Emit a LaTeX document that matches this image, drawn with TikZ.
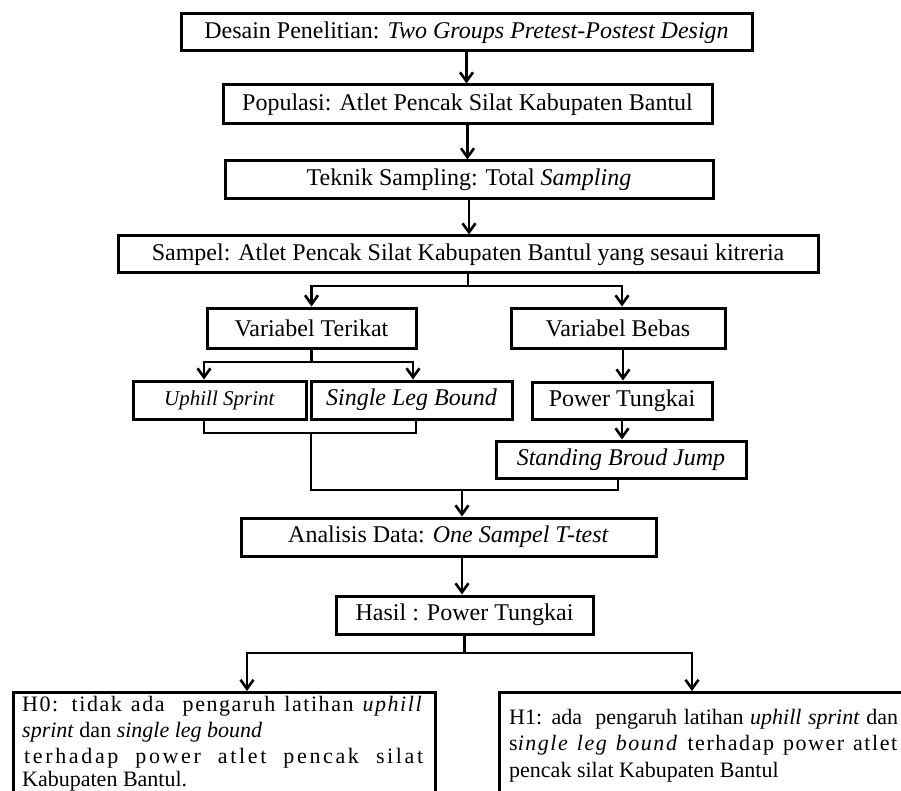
\documentclass[tikz,border=0pt]{standalone}
\usepackage{fontspec}
\setmainfont{Liberation Serif}
\usetikzlibrary{arrows.meta,calc}
\begin{document}
\begin{tikzpicture}[x=1pt,y=-1pt,
  box/.style={draw,line width=3pt,inner sep=0pt,font=\fontsize{24}{28}\selectfont},
  arr/.style={line width=2.6pt,-{Straight Barb[length=9pt,width=13pt]}},
  ln/.style={line width=2.6pt},
  txt/.style={anchor=base west,inner sep=0pt,font=\fontsize{22}{26}\selectfont}]
\useasboundingbox (0,0) rectangle (901,791);
\clip (0,0) rectangle (901,791);
% boxes
\node[box,minimum width=571pt,minimum height=37pt] (d1) at (466.5,32.5) {Desain Penelitian: \textit{Two Groups Pretest-Postest Design}};
\node[box,minimum width=489pt,minimum height=39pt] (pop) at (467.5,104.5) {Populasi: Atlet Pencak Silat Kabupaten Bantul};
\node[box,minimum width=488pt,minimum height=38pt] (tek) at (469,180) {Teknik Sampling: Total \textit{Sampling}};
\node[box,minimum width=700pt,minimum height=37pt] (sam) at (468,254.5) {Sampel: Atlet Pencak Silat Kabupaten Bantul yang sesaui kitreria};
\node[box,minimum width=209pt,minimum height=40pt] (vt) at (311.5,328) {Variabel Terikat};
\node[box,minimum width=214pt,minimum height=40pt] (vb) at (618,328) {Variabel Bebas};
\node[box,minimum width=173pt,minimum height=38pt,font=\fontsize{21}{25}\selectfont] (up) at (219.5,400) {\textit{Uphill Sprint}};
\node[box,minimum width=201pt,minimum height=38pt] (slb) at (411.5,400) {\textit{Single Leg Bound}};
\node[box,minimum width=180pt,minimum height=37pt] (pt) at (622,400.5) {Power Tungkai};
\node[box,minimum width=250pt,minimum height=37pt] (sbj) at (621,459.5) {\textit{Standing Broud Jump}};
\node[box,minimum width=415pt,minimum height=38pt] (ana) at (448.5,537) {Analisis Data: \textit{One Sampel T-test}};
\node[box,minimum width=257pt,minimum height=38pt] (has) at (464.5,615) {Hasil : Power Tungkai};
\node[box,anchor=north west,minimum width=422pt,minimum height=200pt] (h0) at (12,691) {};
\node[box,anchor=north west,minimum width=500pt,minimum height=200pt] (h1) at (498,691) {};
% texts in hypothesis boxes
\node[txt] (h0a) at (22,711) {\makebox[401pt][s]{\addfontfeature{LetterSpace=7}H0: tidak ada \ pengaruh latihan \textit{uphill}}};
\node[txt] (h0b) at (22,737) {\textit{sprint} dan \textit{single leg bound}};
\node[txt] (h0c) at (24,763) {\makebox[399pt][s]{\addfontfeature{LetterSpace=12}terhadap power atlet pencak silat}};
\node[txt] (h0d) at (22,786) {Kabupaten Bantul.};
\node[txt] (h1a) at (509,724) {\makebox[389pt][s]{H1: ada \ pengaruh latihan \textit{uphill sprint} dan}};
\node[txt] (h1b) at (509,750) {\makebox[388pt][s]{\addfontfeature{LetterSpace=7}s\textit{ingle leg bound} terhadap power atlet}};
\node[txt] (h1c) at (509,777) {pencak silat Kabupaten Bantul};
% junctions
\coordinate (j1) at (468,286);
\coordinate (j2) at (311.5,362);
\coordinate (j3) at (311,433);
\coordinate (j4) at (462,490);
\coordinate (j5) at (464.5,653);
% connectors
\draw[arr] (d1.south) -- (d1.south |- pop.north);
\draw[arr] (pop.south) -- (pop.south |- tek.north);
\draw[arr] (tek.south) -- (tek.south |- sam.north);
\draw[ln] (sam.south) -- (j1);
\draw[arr] (j1) -| (vt.north);
\draw[arr] (j1) -| ([xshift=4pt]vb.north);
\draw[ln] (vt.south) -- (j2);
\draw[arr] (j2) -| ([xshift=-15.5pt]up.north);
\draw[arr] (j2) -| ([xshift=1.5pt]slb.north);
\draw[ln] ([xshift=-15.5pt]up.south) |- (j3) -| ([xshift=4.5pt]slb.south);
\draw[ln] (j3) |- (j4) -| ([xshift=-3pt]sbj.south);
\draw[arr] (j4) -- (j4 |- ana.north);
\draw[arr] ([xshift=1pt]pt.north |- vb.south) -- ([xshift=1pt]pt.north);
\draw[arr] (pt.south) -- (pt.south |- sbj.north);
\draw[arr] (j4 |- ana.south) -- (j4 |- has.north);
\draw[ln] (has.south) -- (j5);
\draw[arr] (j5) -| ([xshift=235pt]h0.north west);
\draw[arr] (j5) -| ([xshift=194pt]h1.north west);
\end{tikzpicture}
\end{document}
